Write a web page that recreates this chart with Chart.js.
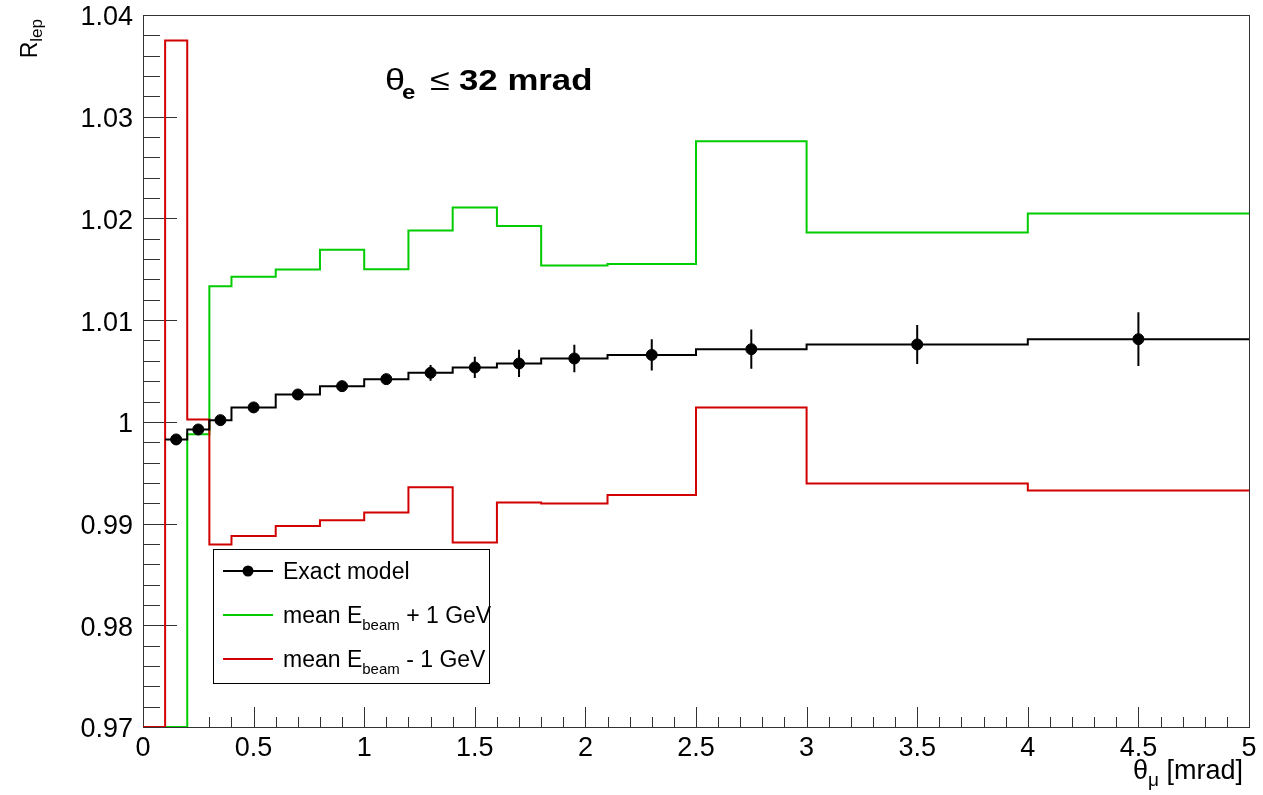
<!DOCTYPE html>
<html><head><meta charset="utf-8">
<script src="https://cdn.jsdelivr.net/npm/chart.js@4.4.1/dist/chart.umd.min.js"></script>
<style>html,body{margin:0;padding:0;background:#fff;}canvas{display:block;}</style>
</head><body>
<canvas id="c" width="1263" height="795"></canvas>
<script>
// ---- data ----
const binEdges = [0, 0.1, 0.2, 0.3, 0.4, 0.6, 0.8, 1.0, 1.2, 1.4, 1.6, 1.8, 2.1, 2.5, 3.0, 4.0, 5.0];
const exactEdges = [0.1, 0.2, 0.3, 0.4, 0.6, 0.8, 1.0, 1.2, 1.4, 1.6, 1.8, 2.1, 2.5, 3.0, 4.0, 5.0];
const exactCenters = [0.15, 0.25, 0.35, 0.5, 0.7, 0.9, 1.1, 1.3, 1.5, 1.7, 1.95, 2.3, 2.75, 3.5, 4.5];
const exactModel = [0.99827, 0.99925, 1.00017, 1.00142, 1.00269, 1.00351, 1.0042, 1.00482, 1.00535, 1.00574, 1.00623, 1.00658, 1.00714, 1.00761, 1.00813];
const exactErrors = [0.00005, 0.00008, 0.0001, 0.00012, 0.00016, 0.0002, 0.0004, 0.00078, 0.00105, 0.00134, 0.00136, 0.00154, 0.00193, 0.00192, 0.00265];
// values below the axis minimum are drawn on the frame (0.97)
const plusOneGeV  = [0.97, 0.97, 0.99879, 1.01334, 1.01426, 1.01499, 1.01691, 1.0150, 1.01882, 1.02108, 1.01925, 1.01538, 1.01551, 1.0276, 1.01862, 1.02049];
const minusOneGeV = [0.97, 1.0375, 1.00024, 0.98794, 0.98879, 0.98977, 0.99033, 0.99109, 0.99358, 0.98814, 0.99207, 0.99198, 0.99282, 1.00142, 0.99394, 0.99325];
const xTicks = [0, 0.5, 1, 1.5, 2, 2.5, 3, 3.5, 4, 4.5, 5];
const xTickLabels = ['0', '0.5', '1', '1.5', '2', '2.5', '3', '3.5', '4', '4.5', '5'];
const yTicks = [0.97, 0.98, 0.99, 1.0, 1.01, 1.02, 1.03, 1.04];
const yTickLabels = ['0.97', '0.98', '0.99', '1', '1.01', '1.02', '1.03', '1.04'];
const xMinorStep = 0.1, yMinorStep = 0.002;

const FONT = "'Liberation Sans', Arial, Helvetica, sans-serif";
const GREEN = '#00cc00', RED = '#d20000', BLACK = '#000000', AXIS = '#333333';

function histPoints(edges, vals) {
  const pts = vals.map((v, i) => ({x: edges[i], y: v}));
  pts.push({x: edges[edges.length - 1], y: vals[vals.length - 1]});
  return pts;
}

const framePlugin = {
  id: 'frame',
  beforeDatasetsDraw(chart) {
    const {ctx, chartArea: ca, scales: {x: xs, y: ys}} = chart;
    ctx.save();
    ctx.strokeStyle = AXIS; ctx.lineWidth = 1;
    ctx.strokeRect(Math.round(ca.left) + 0.5, Math.round(ca.top) + 0.5, Math.round(ca.right - ca.left), Math.round(ca.bottom - ca.top));
    ctx.beginPath();
    for (let k = 0; ; k++) {
      const v = yTicks[0] + k * yMinorStep;
      if (v > yTicks[yTicks.length - 1] + 1e-9) break;
      const major = yTicks.some(t => Math.abs(t - v) < 1e-9);
      const py = Math.round(ys.getPixelForValue(v)) + 0.5;
      ctx.moveTo(ca.left, py); ctx.lineTo(ca.left + (major ? 34 : 17), py);
    }
    for (let k = 0; ; k++) {
      const v = xTicks[0] + k * xMinorStep;
      if (v > xTicks[xTicks.length - 1] + 1e-9) break;
      const major = xTicks.some(t => Math.abs(t - v) < 1e-9);
      const px = Math.round(xs.getPixelForValue(v)) + 0.5;
      ctx.moveTo(px, ca.bottom); ctx.lineTo(px, ca.bottom - (major ? 20 : 10));
    }
    ctx.stroke();
    ctx.restore();
  },
  afterDatasetsDraw(chart) {
    const {ctx, scales: {x: xs, y: ys}} = chart;
    ctx.save();
    ctx.strokeStyle = BLACK; ctx.lineWidth = 2;
    ctx.beginPath();
    exactCenters.forEach((c, i) => {
      const px = xs.getPixelForValue(c);
      ctx.moveTo(px, ys.getPixelForValue(exactModel[i] - exactErrors[i]));
      ctx.lineTo(px, ys.getPixelForValue(exactModel[i] + exactErrors[i]));
    });
    ctx.stroke();
    ctx.restore();
  },
  afterDraw(chart) {
    const {ctx, chartArea: ca} = chart;
    ctx.save();
    ctx.fillStyle = '#000';
    ctx.textBaseline = 'alphabetic';
    // ---- title ----
    const stretch = 1.2;
    function piece(txt, font, x, y) {
      ctx.save(); ctx.translate(x, y); ctx.scale(stretch, 1);
      ctx.font = font; ctx.fillText(txt, 0, 0); ctx.restore();
    }
    piece('\u03b8', '30px ' + FONT, 385, 90);
    piece('e', 'bold 20px ' + FONT, 402, 99);
    piece('\u2264', '30px ' + FONT, 430, 90);
    piece('32 mrad', 'bold 29px ' + FONT, 459, 90);

    // ---- x axis title ----
    ctx.font = '27px ' + FONT;
    const mainX = ' [mrad]';
    const wTheta = ctx.measureText('\u03b8').width;
    const wMain = ctx.measureText(mainX).width;
    ctx.font = '19px ' + FONT;
    const wMu = ctx.measureText('\u03bc').width;
    const x0 = ca.right - 6 - wMain - wMu - wTheta;
    ctx.font = '27px ' + FONT;
    ctx.fillText('\u03b8', x0, 779);
    ctx.font = '19px ' + FONT;
    ctx.fillText('\u03bc', x0 + wTheta, 786);
    ctx.font = '27px ' + FONT;
    ctx.fillText(mainX, x0 + wTheta + wMu, 779);

    // ---- y axis title (rotated) ----
    ctx.save();
    ctx.translate(37, ca.top + 4);
    ctx.rotate(-Math.PI / 2);
    ctx.font = '17px ' + FONT;
    const wLep = ctx.measureText('lep').width;
    ctx.font = '23px ' + FONT;
    const wR = ctx.measureText('R').width;
    const start = -(wR + wLep);
    ctx.fillText('R', start, 0);
    ctx.font = '17px ' + FONT;
    ctx.fillText('lep', start + wR, 5);
    ctx.restore();

    // ---- legend ----
    const W = ca.right - ca.left, H = ca.bottom - ca.top;
    const lx = ca.left + 0.0633 * W, ly = ca.top + 0.7507 * H;
    const lw = 0.2497 * W, lh = 0.1882 * H;
    ctx.fillStyle = '#fff';
    ctx.fillRect(lx, ly, lw, lh);
    ctx.strokeStyle = '#000'; ctx.lineWidth = 1;
    ctx.strokeRect(Math.round(lx) + 0.5, Math.round(ly) + 0.5, Math.round(lw), Math.round(lh));
    const rows = [ly + 22, ly + 66, ly + 110];
    const entries = [
      {color: BLACK, marker: true, parts: [['Exact model', 23, 0]]},
      {color: GREEN, marker: false, parts: [['mean E', 23, 0], ['beam', 15, 7], [' + 1 GeV', 23, 0]]},
      {color: RED, marker: false, parts: [['mean E', 23, 0], ['beam', 15, 7], [' - 1 GeV', 23, 0]]}
    ];
    entries.forEach((e, i) => {
      const y = Math.round(rows[i]);
      ctx.strokeStyle = e.color; ctx.lineWidth = 2;
      ctx.beginPath(); ctx.moveTo(lx + 10, y); ctx.lineTo(lx + 60, y); ctx.stroke();
      if (e.marker) {
        ctx.fillStyle = BLACK; ctx.beginPath(); ctx.arc(lx + 35, y, 5.5, 0, 2 * Math.PI); ctx.fill();
      }
      ctx.fillStyle = '#000';
      let tx = lx + 70;
      e.parts.forEach(([t, size, off]) => {
        ctx.font = size + 'px ' + FONT;
        ctx.fillText(t, tx, y + 8 + off);
        tx += ctx.measureText(t).width;
      });
    });
    ctx.restore();
  }
};

new Chart(document.getElementById('c'), {
  type: 'line',
  data: {
    datasets: [
      {label: 'Exact model points', data: exactCenters.map((x, i) => ({x, y: exactModel[i]})), showLine: false,
       pointRadius: 5.5, pointBackgroundColor: BLACK, pointBorderColor: BLACK, pointBorderWidth: 1, order: 0},
      {label: 'Exact model', data: histPoints(exactEdges, exactModel), stepped: 'before', borderColor: BLACK,
       borderWidth: 2, pointRadius: 0, fill: false, order: 1},
      {label: 'mean E_beam - 1 GeV', data: histPoints(binEdges, minusOneGeV), stepped: 'before', borderColor: RED,
       borderWidth: 2, pointRadius: 0, fill: false, order: 2},
      {label: 'mean E_beam + 1 GeV', data: histPoints(binEdges, plusOneGeV), stepped: 'before', borderColor: GREEN,
       borderWidth: 2, pointRadius: 0, fill: false, order: 3}
    ]
  },
  options: {
    responsive: false, animation: false, devicePixelRatio: 1,
    layout: {padding: {left: 0, right: 14, top: 15, bottom: 0}},
    plugins: {legend: {display: false}, tooltip: {enabled: false}},
    scales: {
      x: {
        type: 'linear', min: 0, max: 5,
        grid: {display: false, drawTicks: false}, border: {display: false},
        afterBuildTicks: s => { s.ticks = xTicks.map(v => ({value: v})); },
        afterFit: s => { s.height = 68; s.paddingLeft = 0; s.paddingRight = 0; },
        ticks: {autoSkip: false, maxRotation: 0, padding: 8, color: '#000',
                font: {family: FONT, size: 27, lineHeight: 1},
                callback: (v, i) => xTickLabels[i]}
      },
      y: {
        type: 'linear', min: 0.97, max: 1.04,
        grid: {display: false, drawTicks: false}, border: {display: false},
        afterBuildTicks: s => { s.ticks = yTicks.map(v => ({value: v})); },
        afterFit: s => { s.width = 143; s.paddingTop = 0; s.paddingBottom = 0; },
        ticks: {autoSkip: false, padding: 10, labelOffset: 3, color: '#000',
                font: {family: FONT, size: 27, lineHeight: 1},
                callback: (v, i) => yTickLabels[i]}
      }
    }
  },
  plugins: [framePlugin]
});
</script>
</body></html>
